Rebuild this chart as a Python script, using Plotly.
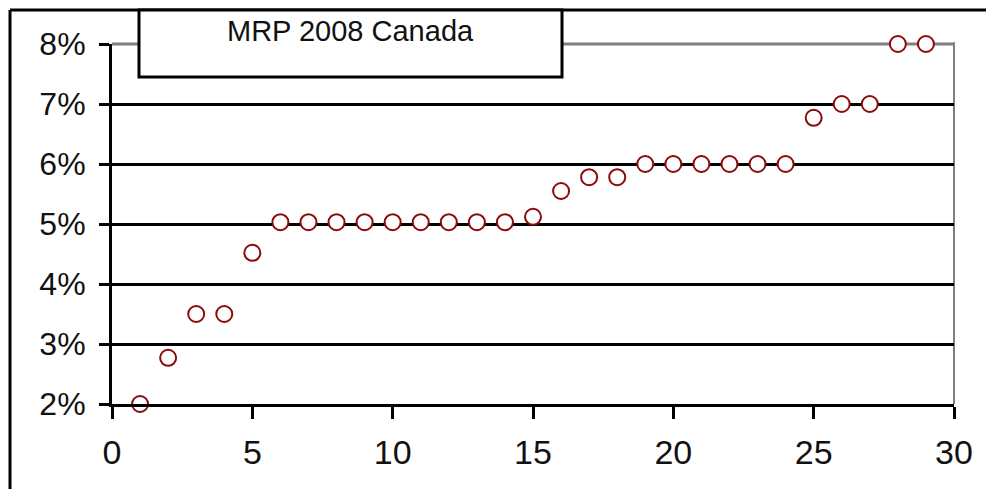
import plotly.graph_objects as go

x_vals = list(range(1, 30))
mrp_pct = [2.0, 2.77, 3.5, 3.5, 4.52, 5.03, 5.03, 5.03, 5.03, 5.03, 5.03, 5.03, 5.03, 5.03,
           5.12, 5.55, 5.78, 5.78, 6.0, 6.0, 6.0, 6.0, 6.0, 6.0, 6.77, 7.0, 7.0, 8.0, 8.0]
y_ticks = [2, 3, 4, 5, 6, 7, 8]
y_tick_labels = ["2%", "3%", "4%", "5%", "6%", "7%", "8%"]
x_ticks = [0, 5, 10, 15, 20, 25, 30]
legend_text = "MRP 2008 Canada"

FONT = "Liberation Sans, Arial, sans-serif"

fig = go.Figure()
fig.add_trace(go.Scatter(
    x=x_vals, y=mrp_pct, mode="markers", cliponaxis=False,
    marker=dict(symbol="circle", size=16, color="white",
                line=dict(color="#8b0a0a", width=2)),
    hoverinfo="skip", showlegend=False,
))

# page body has an 8px margin: convert window pixels to figure pixels
OFF = 8
W, H = 994, 489
plot_left, plot_right, plot_top, plot_bottom = 112, 954, 44, 404  # window px
L = plot_left - OFF
T = plot_top - OFF
R = W - (plot_right - OFF)
B = H - (plot_bottom - OFF)
pw = W - L - R
ph = H - T - B

def px(xw):
    return (xw - plot_left) / pw

def py(yw):
    return (plot_bottom - yw) / ph

shapes = [
    dict(type="line", xref="paper", yref="paper", x0=0, x1=1, y0=1, y1=1,
         line=dict(color="#808080", width=3), layer="between"),
    dict(type="line", xref="paper", yref="paper", x0=1, x1=1, y0=0, y1=1.005,
         line=dict(color="#808080", width=2), layer="between"),
    dict(type="line", xref="paper", yref="paper", x0=px(10), x1=px(10), y0=py(10), y1=py(495),
         line=dict(color="black", width=3), layer="above"),
    dict(type="line", xref="paper", yref="paper", x0=px(10), x1=px(1000), y0=py(10), y1=py(10),
         line=dict(color="black", width=3), layer="above"),
    dict(type="rect", xref="paper", yref="paper", x0=px(139), x1=px(562), y0=py(77), y1=py(10),
         line=dict(color="black", width=3), fillcolor="white", layer="above"),
]

fig.add_annotation(
    xref="paper", yref="paper", x=px(350), y=py(31), text=legend_text,
    showarrow=False, xanchor="center", yanchor="middle",
    font=dict(family=FONT, size=29, color="#111111"),
)

fig.update_layout(
    width=W, height=H,
    margin=dict(l=L, r=R, t=T, b=B, pad=0, autoexpand=False),
    paper_bgcolor="white", plot_bgcolor="white",
    shapes=shapes,
    showlegend=False,
    xaxis=dict(
        range=[0, 30], tickvals=x_ticks, ticktext=[str(v) for v in x_ticks],
        showgrid=False, zeroline=False, automargin=False,
        showline=True, linecolor="black", linewidth=3,
        ticks="outside", ticklen=12, tickwidth=3, tickcolor="black",
        tickfont=dict(family=FONT, size=34, color="#111111"),
        ticklabelstandoff=4,
    ),
    yaxis=dict(
        range=[2, 8], tickvals=y_ticks, ticktext=y_tick_labels,
        showgrid=True, gridcolor="black", gridwidth=3, zeroline=False, automargin=False,
        showline=True, linecolor="black", linewidth=3,
        ticks="outside", ticklen=10, tickwidth=3, tickcolor="black",
        tickfont=dict(family=FONT, size=32, color="#111111"),
        ticklabelstandoff=7,
    ),
)

fig.write_html("out.html")
